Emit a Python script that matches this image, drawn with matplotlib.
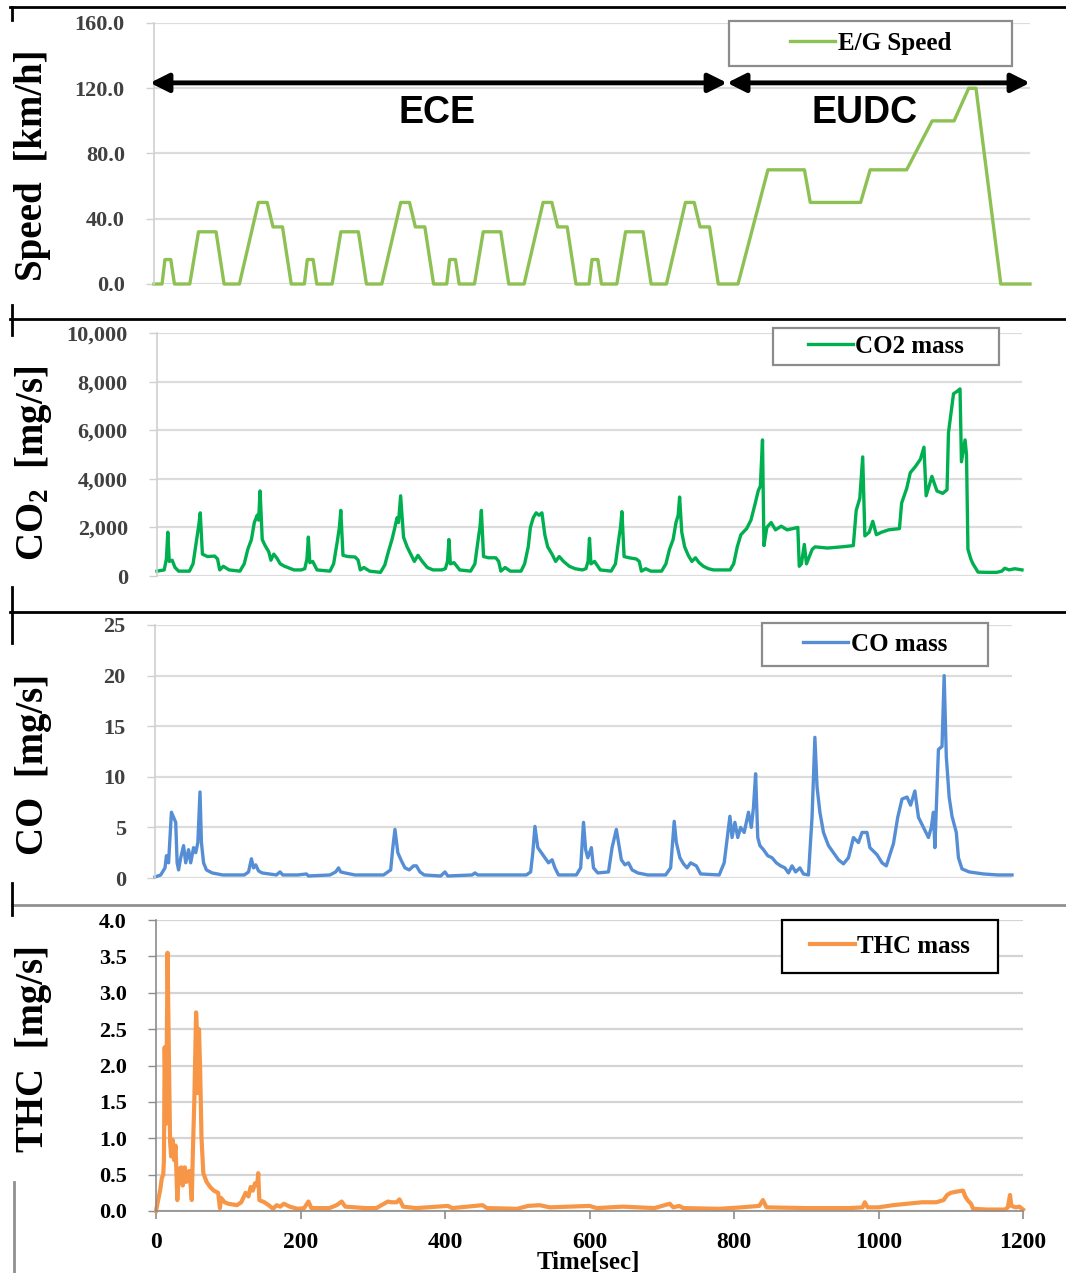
import matplotlib
matplotlib.use('Agg')
import matplotlib.pyplot as plt
from matplotlib.lines import Line2D
from matplotlib.patches import Rectangle
from matplotlib.ticker import MultipleLocator, FuncFormatter

plt.rcParams['font.family'] = ['Liberation Serif', 'DejaVu Serif']
plt.rcParams['font.weight'] = 'bold'
plt.rcParams['mathtext.fontset'] = 'custom'
plt.rcParams['mathtext.rm'] = 'Liberation Serif:bold'
plt.rcParams['mathtext.default'] = 'rm'

# ---- data ----
# vehicle speed, NEDC: 4 x ECE + EUDC  [sec, km/h]
speed_t = [0, 11, 15, 23, 28, 49, 61, 85, 96, 117, 143, 155, 163, 176, 188,
           206, 210, 218, 223, 244, 256, 280, 291, 312, 338, 350, 358, 371, 383,
           401, 405, 413, 418, 439, 451, 475, 486, 507, 533, 545, 553, 566, 578,
           596, 600, 608, 613, 634, 646, 670, 681, 702, 728, 740, 748, 761, 773,
           800, 841, 891, 899, 968, 981, 1031, 1066, 1096, 1116, 1126, 1160, 1200]
speed_v = [0, 0, 15, 15, 0, 0, 32, 32, 0, 0, 50, 50, 35, 35, 0,
           0, 15, 15, 0, 0, 32, 32, 0, 0, 50, 50, 35, 35, 0,
           0, 15, 15, 0, 0, 32, 32, 0, 0, 50, 50, 35, 35, 0,
           0, 15, 15, 0, 0, 32, 32, 0, 0, 50, 50, 35, 35, 0,
           0, 70, 70, 50, 50, 70, 70, 100, 100, 120, 120, 0, 0]

# CO2 mass [mg/s]
co2_t = [0, 10, 13, 15, 17, 21, 25, 30, 45, 50, 55, 58, 60, 63, 70, 80, 84, 87, 92, 100,
         115, 121, 126, 131, 135, 139, 141, 143, 146, 150, 155, 158, 162, 166, 171, 177, 183, 190,
         200, 205, 208, 210, 212, 216, 222, 240, 245, 250, 253, 255, 258, 265, 275, 279, 282, 287,
         295, 310, 316, 321, 326, 330, 333, 335, 338, 342, 347, 352, 357, 362, 368, 375, 383,
         395, 400, 403, 405, 407, 412, 420, 435, 441, 446, 448, 450, 453, 460, 470, 474, 477, 483,
         490, 505, 510, 515, 518, 522, 526, 530, 534, 538, 542, 548, 553, 558, 564, 572, 580,
         590, 595, 598, 600, 602, 607, 615, 630, 636, 641, 643, 645, 648, 655, 665, 669, 672, 678,
         685, 700, 706, 711, 716, 720, 723, 725, 728, 732, 737, 742, 747, 752, 758, 765, 772,
         780, 795, 800, 805, 810, 818, 824, 830, 834, 837, 840, 842, 846, 852, 858, 866, 874, 882,
         889, 891, 894, 898, 901, 905, 909, 913, 930, 950, 966, 970, 975, 979, 982, 988, 993, 998,
         1005, 1015, 1030, 1033, 1040, 1045, 1052, 1059, 1064, 1067, 1071, 1075, 1082, 1090, 1096,
         1098, 1102, 1105, 1110, 1114, 1116, 1121, 1123, 1125, 1129, 1132, 1139, 1150, 1165, 1172,
         1176, 1182, 1190, 1200]
co2_v = [200, 250, 700, 1800, 600, 650, 350, 200, 200, 500, 1500, 2100, 2600, 900, 800, 820, 700, 250, 400, 250,
         200, 500, 1100, 1500, 2200, 2500, 2300, 3500, 1500, 1250, 1000, 650, 900, 750, 500, 400, 330, 250,
         250, 300, 700, 1600, 550, 600, 250, 200, 500, 1400, 2000, 2700, 850, 800, 780, 650, 250, 350,
         200, 150, 450, 1000, 1500, 2000, 2400, 2200, 3300, 1600, 1200, 900, 600, 850, 600, 350, 250,
         250, 300, 600, 1500, 500, 550, 250, 200, 500, 1600, 2000, 2700, 800, 750, 750, 600, 200, 350,
         200, 200, 500, 1200, 2000, 2400, 2600, 2500, 2600, 1700, 1200, 900, 600, 800, 600, 400, 300,
         250, 300, 600, 1550, 500, 600, 250, 200, 500, 1600, 2000, 2650, 800, 750, 700, 600, 200, 300,
         200, 200, 500, 1100, 1500, 2200, 2500, 3250, 1800, 1200, 850, 600, 750, 550, 400, 300, 250,
         250, 250, 500, 1200, 1700, 1950, 2300, 3000, 3500, 3700, 5600, 1250, 2000, 2200, 1900, 2050, 1900, 1950,
         2000, 400, 500, 1300, 500, 800, 1100, 1200, 1150, 1200, 1250, 2700, 3200, 4900, 1650, 1800, 2250, 1700,
         1800, 1900, 1950, 3000, 3600, 4250, 4500, 4800, 5300, 3300, 3700, 4100, 3500, 3400, 3550,
         5900, 6800, 7500, 7600, 7700, 4700, 5600, 5000, 1100, 700, 500, 160, 150, 150, 200,
         320, 250, 300, 250]

# CO mass [mg/s]
co_t = [0, 8, 14, 16, 19, 23, 26, 29, 31, 33, 36, 40, 43, 47, 50, 54, 57, 60, 63, 65,
        68, 72, 80, 95, 125, 131, 135, 138, 141, 145, 150, 160, 170, 175, 179, 200, 212, 215, 245, 253,
        257, 260, 266, 280, 320, 330, 333, 336, 340, 345, 350, 356, 362, 366, 371, 377, 400, 406, 410, 444,
        448, 452, 520, 526, 529, 532, 536, 541, 546, 551, 556, 560, 565, 590, 596, 600, 603, 606, 611, 614,
        620, 635, 640, 646, 649, 653, 658, 663, 668, 676, 690, 715, 722, 727, 730, 735, 740, 745, 750, 758,
        764, 790, 797, 805, 808, 812, 816, 820, 825, 831, 835, 838, 841, 844, 847, 852, 858, 864, 870, 876,
        882, 887, 892, 897, 903, 908, 915, 920, 924, 927, 931, 936, 943, 950, 957, 964, 971, 978, 985, 990,
        997, 1001, 1011, 1018, 1024, 1034, 1040, 1046, 1053, 1058, 1064, 1069, 1076, 1083, 1087, 1090,
        1092, 1097, 1102, 1105, 1108, 1112, 1116, 1122, 1125, 1130, 1140, 1160, 1180, 1200]
co_v = [0.1, 0.3, 1.0, 2.2, 1.5, 6.5, 6.0, 5.5, 1.5, 0.8, 2.0, 3.2, 1.5, 2.8, 1.5, 3.0, 2.5, 3.5, 8.5, 3.5,
        1.5, 0.8, 0.5, 0.3, 0.3, 0.6, 1.9, 1.0, 1.3, 0.7, 0.5, 0.4, 0.3, 0.6, 0.3, 0.3, 0.4, 0.2, 0.3, 0.6,
        1.0, 0.6, 0.5, 0.3, 0.3, 0.8, 3.0, 4.8, 2.5, 1.7, 1.0, 0.8, 1.2, 1.2, 0.6, 0.3, 0.2, 0.6, 0.2, 0.3,
        0.5, 0.3, 0.3, 0.6, 2.5, 5.1, 3.0, 2.5, 2.0, 1.5, 1.8, 1.0, 0.3, 0.3, 1.0, 5.5, 2.8, 2.0, 3.0, 1.0,
        0.5, 0.6, 3.0, 4.8, 3.5, 1.8, 1.3, 1.5, 0.8, 0.5, 0.3, 0.3, 1.0, 5.6, 3.5, 2.0, 1.4, 1.0, 1.5, 1.2,
        0.4, 0.3, 1.5, 6.1, 4.0, 5.5, 4.0, 5.0, 4.5, 6.5, 5.0, 7.0, 10.3, 4.0, 3.2, 2.8, 2.2, 2.0, 1.5, 1.2,
        1.0, 0.5, 1.2, 0.6, 1.0, 0.4, 0.3, 6.0, 13.9, 9.0, 6.5, 4.5, 3.2, 2.5, 1.8, 1.4, 2.0, 4.0, 3.5, 4.5,
        4.5, 3.0, 2.3, 1.5, 1.2, 3.4, 6.0, 7.8, 8.0, 7.2, 8.6, 6.0, 5.0, 4.0, 5.0, 6.5,
        3.0, 12.7, 13.0, 20.0, 12.0, 8.0, 6.1, 4.5, 2.0, 0.9, 0.6, 0.4, 0.3, 0.3]

# THC mass [mg/s]
thc_t = [0, 3, 6, 8, 10, 11, 12, 14, 16, 18, 19.5, 21, 23, 25, 27, 29.5, 32, 35, 37, 40,
         42, 44, 46, 48, 49.5, 51, 53, 55.5, 57, 58, 59.5, 61, 63, 65.5, 70, 75, 80, 86, 88.5, 90,
         95, 100, 112, 118, 124, 128, 131, 134, 137, 140, 141.5, 143, 150, 156, 162, 167, 172, 177, 185, 196,
         205, 211, 215, 240, 250, 257, 262, 290, 305, 312, 321, 326, 333, 337, 342, 360, 404, 410, 452, 458,
         500, 515, 531, 545, 600, 610, 646, 690, 711, 716, 724, 730, 780, 810, 835, 840, 845, 900, 960, 978,
         981, 985, 1000, 1020, 1040, 1060, 1080, 1090, 1095, 1100, 1110, 1117, 1120, 1124, 1128, 1131, 1150,
         1175, 1179, 1182, 1184, 1190, 1195, 1200]
thc_v = [0.0, 0.15, 0.3, 0.45, 0.5, 0.7, 2.25, 1.2, 3.55, 2.0, 0.95, 0.75, 0.98, 0.7, 0.9, 0.15, 0.58, 0.6, 0.35, 0.6,
         0.4, 0.5, 0.55, 0.35, 0.15, 0.8, 1.5, 2.73, 2.4, 1.62, 2.5, 1.98, 1.0, 0.52, 0.4, 0.33, 0.28, 0.25, 0.04, 0.18,
         0.12, 0.1, 0.08, 0.12, 0.25, 0.2, 0.33, 0.28, 0.38, 0.35, 0.52, 0.15, 0.12, 0.08, 0.03, 0.08, 0.06, 0.1, 0.06, 0.03,
         0.04, 0.13, 0.04, 0.04, 0.08, 0.13, 0.06, 0.04, 0.04, 0.08, 0.13, 0.12, 0.12, 0.16, 0.06, 0.04, 0.07, 0.04, 0.08, 0.04,
         0.03, 0.07, 0.08, 0.05, 0.07, 0.04, 0.06, 0.04, 0.1, 0.05, 0.07, 0.04, 0.03, 0.05, 0.07, 0.15, 0.05, 0.04, 0.04, 0.05,
         0.12, 0.05, 0.05, 0.08, 0.1, 0.12, 0.12, 0.15, 0.22, 0.25, 0.27, 0.28, 0.2, 0.14, 0.1, 0.03, 0.02,
         0.02, 0.05, 0.22, 0.07, 0.05, 0.06, 0.02]

x_ticks = [0, 200, 400, 600, 800, 1000, 1200]

W, H = 1066, 1273
fig = plt.figure(figsize=(W / 100, H / 100), dpi=100)


def fx(x):
    return x / W


def fy(y):
    return 1 - y / H


def add_ax(left, top, right, bottom):
    return fig.add_axes([fx(left), fy(bottom), (right - left) / W, (bottom - top) / H])


def style(ax, ymax, step, fmt, lab_color, grid_color, spine_color, tick_color):
    ax.set_xlim(0, 1200)
    ax.set_ylim(0, ymax)
    ax.yaxis.set_major_locator(MultipleLocator(step))
    ax.yaxis.set_major_formatter(FuncFormatter(fmt))
    ax.grid(axis='y', color=grid_color, lw=1.6)
    ax.set_axisbelow(True)
    for s in ['top', 'right', 'bottom']:
        ax.spines[s].set_visible(False)
    ax.spines['left'].set_color(spine_color)
    ax.spines['left'].set_linewidth(1.2)
    ax.tick_params(axis='y', length=6, width=1, color=tick_color, pad=15,
                   labelsize=16, labelcolor=lab_color)
    ax.tick_params(axis='x', bottom=False, labelbottom=False)
    for lab in ax.get_yticklabels():
        lab.set_fontweight('bold')


def legend_box(ax, left, top, right, bottom, color, label, edge, lw_line):
    ax.add_patch(Rectangle((fx(left), fy(bottom)), (right - left) / W, (bottom - top) / H,
                           transform=fig.transFigure, fc='white', ec=edge, lw=1.6,
                           clip_on=False, zorder=5))
    h = [Line2D([], [], color=color, lw=lw_line)]
    leg = ax.legend(h, [label], loc='center', frameon=False,
                    bbox_to_anchor=(fx((left + right) / 2), fy((top + bottom) / 2)),
                    bbox_transform=fig.transFigure, handlelength=1.8, handletextpad=0.1,
                    prop={'family': 'Liberation Serif', 'weight': 'bold', 'size': 18})
    leg.set_zorder(6)


# ---- speed ----
ax1 = add_ax(154, 23, 1030, 284)
style(ax1, 160, 40, lambda v, p: '%.1f' % v, '#404040', '#dcdcdc', '#d0d0d0', '#d0d0d0')
ax1.plot(speed_t, speed_v, color='#8dc153', lw=2.4, clip_on=False)
legend_box(ax1, 729, 21, 1012, 66, '#8dc153', 'E/G Speed', '#8c8c8c', 2.4)
arr = dict(arrowstyle='<|-|>', lw=3.5, color='black', mutation_scale=28, shrinkA=0, shrinkB=0)
ax1.annotate('', xy=(-5.5, 123.3), xytext=(785, 123.3), arrowprops=arr, annotation_clip=False)
ax1.annotate('', xy=(785, 123.3), xytext=(1200, 123.3), arrowprops=arr, annotation_clip=False)
ax1.text(388, 105, 'ECE', family='Liberation Sans', weight='bold', fontsize=27,
         ha='center', va='center')
ax1.text(974, 105, 'EUDC', family='Liberation Sans', weight='bold', fontsize=27,
         ha='center', va='center')

# ---- CO2 ----
ax2 = add_ax(157, 333, 1022, 576)
style(ax2, 10000, 2000, lambda v, p: '{:,.0f}'.format(v), '#404040', '#dcdcdc', '#d0d0d0', '#d0d0d0')
ax2.plot(co2_t, co2_v, color='#00b050', lw=2.4, clip_on=False)
legend_box(ax2, 773, 328, 999, 365, '#00b050', 'CO2 mass', '#8c8c8c', 2.4)

# ---- CO ----
ax3 = add_ax(155, 625, 1012, 878)
style(ax3, 25, 5, lambda v, p: '%d' % v, '#404040', '#dcdcdc', '#d0d0d0', '#d0d0d0')
ax3.plot(co_t, co_v, color='#558ed5', lw=2.4, clip_on=False)
legend_box(ax3, 762, 623, 988, 666, '#558ed5', 'CO mass', '#8c8c8c', 2.4)

# ---- THC ----
ax4 = add_ax(156, 920, 1023, 1211)
style(ax4, 4.0, 0.5, lambda v, p: '%.1f' % v, 'black', '#d4d4d4', '#8c8c8c', '#8c8c8c')
ax4.spines['bottom'].set_visible(True)
ax4.spines['bottom'].set_color('#8c8c8c')
ax4.spines['bottom'].set_linewidth(1.2)
ax4.set_xticks(x_ticks)
ax4.tick_params(axis='x', bottom=True, labelbottom=True, length=6, width=1.2,
                color='#8c8c8c', pad=9, labelsize=17, labelcolor='black')
for lab in ax4.get_xticklabels():
    lab.set_fontweight('bold')
ax4.plot(thc_t, thc_v, color='#f79646', lw=3.0, clip_on=False)
legend_box(ax4, 782, 920, 998, 973, '#f79646', 'THC mass', 'black', 3.0)

fig.text(fx(588), fy(1263), 'Time[sec]', ha='center', va='center', fontsize=18, weight='bold')

# ---- y labels ----
ylab = dict(rotation=90, ha='center', va='center', fontsize=28, weight='bold')
fig.text(fx(33), fy(165), 'Speed  [km/h]', **ylab)
fig.text(fx(34), fy(463), 'CO$_{2}$  [mg/s]', **ylab)
fig.text(fx(34), fy(764), 'CO  [mg/s]', **ylab)
fig.text(fx(34), fy(1049), 'THC  [mg/s]', **ylab)

# ---- panel frame fragments ----
frame = [((10, 1066), (7, 7), 'black'), ((10, 1066), (319, 319), 'black'),
         ((10, 1066), (612, 612), 'black'), ((12, 1066), (905, 905), '#909090'),
         ((12, 12), (7, 20), 'black'), ((12, 12), (305, 335), 'black'),
         ((12, 12), (587, 643), 'black'), ((12, 12), (883, 915), 'black'),
         ((14, 14), (1182, 1273), '#909090')]
for xs, ys, c in frame:
    fig.lines.append(Line2D([fx(xs[0]), fx(xs[1])], [fy(ys[0]), fy(ys[1])],
                            transform=fig.transFigure, color=c, lw=2))

fig.savefig('out.png', dpi=100)
